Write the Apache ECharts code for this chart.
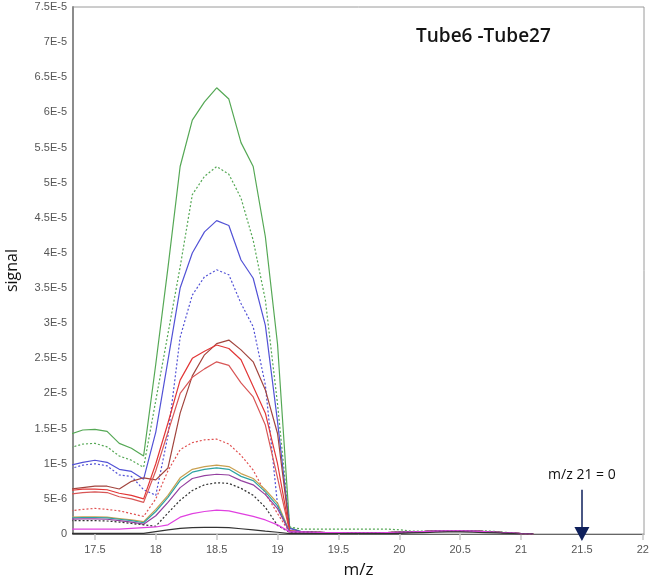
<!DOCTYPE html>
<html style="height: 100%">
<head>
    <meta charset="utf-8">
    <script type="text/javascript" src="https://cdn.jsdelivr.net/npm/echarts@6/dist/echarts.min.js"></script>
</head>
<body style="height: 100%; margin: 0; background: #fff">
<div id="container" style="width: 651px; height: 582px"></div>
<script type="text/javascript">
    // m/z positions of the scan points
    var mz = [17.3, 17.4, 17.5, 17.6, 17.7, 17.8, 17.9, 18.0, 18.1, 18.2,
              18.3, 18.4, 18.5, 18.6, 18.7, 18.8, 18.9, 19.0, 19.1, 19.2,
              19.3, 19.4, 19.5, 19.6, 19.7, 19.8, 19.9, 20.0, 20.1, 20.2,
              20.3, 20.4, 20.5, 20.6, 20.7, 20.8, 20.9, 21.0, 21.1];
    var xTicks = [17.5, 18, 18.5, 19, 19.5, 20, 20.5, 21, 21.5, 22];
    var scale = 1e-6;   // signal values below are in units of 1E-6

    // tails after 19.1 (almost flat near zero)
    var tailLow = [0.3, 0.25, 0.2, 0.2, 0.15, 0.15, 0.15, 0.2, 0.25, 0.3, 0.35, 0.4, 0.45, 0.45, 0.4, 0.35, 0.25, 0.15, 0.05, 0];
    var tailGreenDot = [0.7, 0.7, 0.7, 0.7, 0.7, 0.7, 0.7, 0.7, 0.6, 0.4, 0.4, 0.45, 0.5, 0.5, 0.5, 0.45, 0.35, 0.2, 0.05, 0];
    var tailZero = [0.05, 0.05, 0.05, 0.05, 0.05, 0.05, 0.05, 0.05, 0.1, 0.15, 0.2, 0.25, 0.3, 0.3, 0.25, 0.2, 0.15, 0.1, 0, 0];

    var greenSolid = [14.2, 14.8, 14.9, 14.6, 12.9, 12.2, 11.1, 24.2, 37.9, 52.3, 58.9, 61.5, 63.5, 61.9, 55.7, 52.3, 42.3, 27.0, 0.9].concat(tailLow);
    var greenDot   = [12.3, 12.8, 12.9, 12.4, 11.1, 10.5, 9.5, 19.0, 28.5, 38.0, 48.3, 50.9, 52.3, 51.2, 47.8, 41.8, 33.3, 18.5, 1.0].concat(tailGreenDot);
    var blueSolid  = [9.8, 10.2, 10.5, 10.2, 9.2, 8.9, 7.8, 14.5, 24.7, 35.0, 40.0, 43.0, 44.6, 43.9, 39.0, 36.4, 29.7, 16.0, 0.8].concat(tailLow);
    var blueDot    = [9.3, 9.8, 10.0, 9.7, 8.4, 8.2, 6.3, 5.5, 14.0, 28.0, 34.0, 36.6, 37.6, 36.9, 32.8, 29.5, 21.2, 4.1, 0.3].concat(tailLow);
    var brown      = [6.4, 6.6, 6.8, 6.8, 6.4, 7.5, 8.0, 7.7, 9.4, 17.2, 22.5, 25.5, 27.1, 27.6, 26.2, 24.5, 20.5, 14.3, 0.5].concat(tailLow);
    var redA       = [6.2, 6.4, 6.4, 6.3, 5.8, 5.5, 5.0, 10.0, 15.8, 21.9, 25.0, 26.0, 26.9, 26.4, 24.8, 21.0, 17.2, 10.0, 0.4].concat(tailLow);
    var redB       = [5.7, 5.9, 6.0, 5.9, 5.3, 5.0, 4.5, 9.0, 14.5, 20.0, 22.3, 23.5, 24.5, 24.0, 21.5, 19.5, 15.5, 8.0, 0.3].concat(tailLow);
    var redDot     = [3.3, 3.5, 3.65, 3.5, 3.3, 2.9, 2.5, 5.0, 9.0, 12.0, 13.0, 13.4, 13.5, 12.8, 11.2, 9.1, 5.8, 2.9, 0.2].concat(tailLow);
    var gold       = [2.4, 2.45, 2.45, 2.4, 2.2, 2.0, 1.75, 3.5, 5.5, 8.0, 9.2, 9.6, 9.8, 9.6, 8.6, 7.9, 6.3, 4.4, 0.3].concat(tailLow);
    var teal       = [2.3, 2.35, 2.35, 2.3, 2.1, 1.9, 1.6, 3.2, 5.2, 7.6, 8.8, 9.2, 9.4, 9.2, 8.2, 7.6, 6.0, 4.0, 0.3].concat(tailLow);
    var purple     = [2.1, 2.15, 2.15, 2.1, 1.9, 1.7, 1.4, 2.6, 4.5, 6.6, 7.9, 8.3, 8.5, 8.4, 7.6, 7.0, 5.6, 3.6, 0.3].concat(tailLow);
    var blackDot   = [1.9, 1.9, 1.9, 1.85, 1.7, 1.5, 1.3, 1.1, 3.0, 4.8, 6.2, 7.0, 7.3, 7.2, 6.5, 5.5, 3.8, 1.2, 0.2].concat(tailLow);
    var magenta    = [0.7, 0.7, 0.7, 0.7, 0.7, 0.8, 0.9, 1.0, 1.3, 2.4, 2.9, 3.2, 3.4, 3.3, 2.9, 2.5, 2.0, 1.3, 0.3].concat(tailLow);
    var blackSolid = [0.1, 0.1, 0.1, 0.1, 0.1, 0.1, 0.1, 0.35, 0.6, 0.8, 0.9, 0.95, 0.95, 0.9, 0.75, 0.6, 0.4, 0.25, 0.05].concat(tailZero);

    var lines = [
        {name: "Tube6",  data: greenSolid, color: "#55a855", dot: false},
        {name: "Tube8",  data: greenDot,   color: "#55a855", dot: true},
        {name: "Tube10", data: blueSolid,  color: "#5252d6", dot: false},
        {name: "Tube12", data: blueDot,    color: "#5252d6", dot: true},
        {name: "Tube14", data: brown,      color: "#a2453e", dot: false},
        {name: "Tube15", data: redB,       color: "#d85656", dot: false},
        {name: "Tube16", data: redA,       color: "#e23636", dot: false},
        {name: "Tube18", data: redDot,     color: "#e05050", dot: true},
        {name: "Tube20", data: gold,       color: "#c9a050", dot: false},
        {name: "Tube21", data: teal,       color: "#2ea3a3", dot: false},
        {name: "Tube22", data: purple,     color: "#9440a0", dot: false},
        {name: "Tube24", data: blackDot,   color: "#333333", dot: true},
        {name: "Tube25", data: magenta,    color: "#e040e0", dot: false},
        {name: "Tube27", data: blackSolid, color: "#333333", dot: false}
    ];

    function sciLabel(v) {
        if (Math.abs(v) < 1e-12) return "0";
        return Number(v.toPrecision(3)).toExponential().toUpperCase().replace("+", "");
    }

    var series = lines.map(function (l) {
        return {
            name: l.name,
            type: "line",
            showSymbol: false,
            silent: true,
            data: mz.map(function (x, i) { return [x, l.data[i] * scale]; }),
            lineStyle: {color: l.color, width: 1.2, type: l.dot ? [2, 2] : "solid"},
            itemStyle: {color: l.color}
        };
    });

    // arrow pointing at m/z 21.5 on the baseline
    series.push({
        type: "line",
        data: [],
        silent: true,
        markLine: {
            silent: true,
            symbol: ["none", "triangle"],
            symbolSize: [15, 14],
            lineStyle: {color: "#0e1f5b", width: 1.5, type: "solid"},
            label: {
                show: true,
                position: "start",
                distance: 8,
                formatter: "m/z 21 = 0",
                color: "#111",
                fontSize: 14,
                fontFamily: "Open Sans"
            },
            data: [[{coord: [21.5, 6.3e-6]}, {coord: [21.5, 0]}]]
        }
    });

    var myChart = echarts.init(document.getElementById("container"));
    var option = {
        animation: false,
        backgroundColor: "#fff",
        grid: {left: 73, right: 7, top: 7, bottom: 48, show: true, borderColor: "#9a9a9a", borderWidth: 1,
               containLabel: false, outerBoundsMode: "none"},
        graphic: [{
            type: "text",
            left: 416,
            top: 27,
            style: {text: "Tube6 -Tube27", fill: "#141414", font: "600 19px 'Open Sans'"}
        }],
        xAxis: {
            type: "value",
            min: 17.32,
            max: 22.01,
            name: "m/z",
            nameLocation: "middle",
            nameGap: 28,
            nameTextStyle: {color: "#111", fontSize: 17, fontFamily: "Open Sans"},
            splitLine: {show: false},
            axisLine: {lineStyle: {color: "#666", width: 1}},
            axisTick: {show: true, customValues: xTicks, length: 6, lineStyle: {color: "#c8c8c8", width: 1.5}},
            axisLabel: {customValues: xTicks, margin: 10, color: "#555", fontSize: 11, fontFamily: "Liberation Sans"}
        },
        yAxis: {
            type: "value",
            min: 0,
            max: 7.5e-5,
            interval: 5e-6,
            name: "signal",
            nameLocation: "middle",
            nameGap: 53,
            nameTextStyle: {color: "#111", fontSize: 16, fontFamily: "Open Sans"},
            splitLine: {show: false},
            axisLine: {show: true, lineStyle: {color: "#8c8c8c", width: 2}},
            axisTick: {show: false},
            axisLabel: {margin: 6, color: "#555", fontSize: 11, fontFamily: "Liberation Sans", formatter: sciLabel}
        },
        series: series
    };
    myChart.setOption(option);
</script>
</body>
</html>
